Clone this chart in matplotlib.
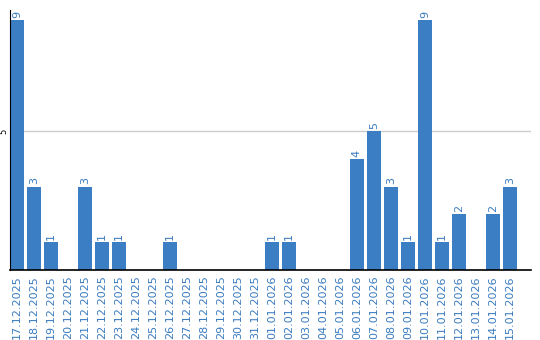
import matplotlib
matplotlib.use("Agg")
import matplotlib.pyplot as plt

dates = ["17.12.2025", "18.12.2025", "19.12.2025", "20.12.2025", "21.12.2025",
         "22.12.2025", "23.12.2025", "24.12.2025", "25.12.2025", "26.12.2025",
         "27.12.2025", "28.12.2025", "29.12.2025", "30.12.2025", "31.12.2025",
         "01.01.2026", "02.01.2026", "03.01.2026", "04.01.2026", "05.01.2026",
         "06.01.2026", "07.01.2026", "08.01.2026", "09.01.2026", "10.01.2026",
         "11.01.2026", "12.01.2026", "13.01.2026", "14.01.2026", "15.01.2026"]
counts = [9, 3, 1, 0, 3, 1, 1, 0, 0, 1, 0, 0, 0, 0, 0,
          1, 1, 0, 0, 0, 4, 5, 3, 1, 9, 1, 2, 0, 2, 3]
y_ticks = [5]

bar_color = "#3b7ec4"
text_color = "#3a7bbf"

fig = plt.figure(figsize=(5.4, 3.4), dpi=100)
ax = fig.add_axes([10 / 540, 70 / 340, 521 / 540, 260 / 340])

x = list(range(len(dates)))
ax.bar(x, counts, width=0.82, color=bar_color, zorder=2)

# value labels above non-empty bars
for xi, v in zip(x, counts):
    if v > 0:
        ax.text(xi, v + 0.08, str(v), rotation=90, ha="center", va="bottom",
                fontsize=8, color=text_color)

ax.set_xlim(-0.41, 30.25)
ax.set_ylim(0, 9.36)
ax.set_xticks(x)
ax.set_xticklabels(dates, rotation=90, fontsize=8, color=text_color)
ax.set_yticks(y_ticks)
ax.set_yticklabels([str(t) for t in y_ticks], rotation=90, fontsize=6,
                   va="center")
ax.tick_params(axis="both", length=0, pad=4)
ax.tick_params(axis="y", pad=1)
ax.yaxis.grid(True, color="#cccccc", linewidth=1, zorder=0)

for side in ["top", "right"]:
    ax.spines[side].set_visible(False)
ax.spines["left"].set_color("black")
ax.spines["bottom"].set_color("black")
ax.spines["bottom"].set_linewidth(1.2)

fig.savefig("out.png", dpi=100)
